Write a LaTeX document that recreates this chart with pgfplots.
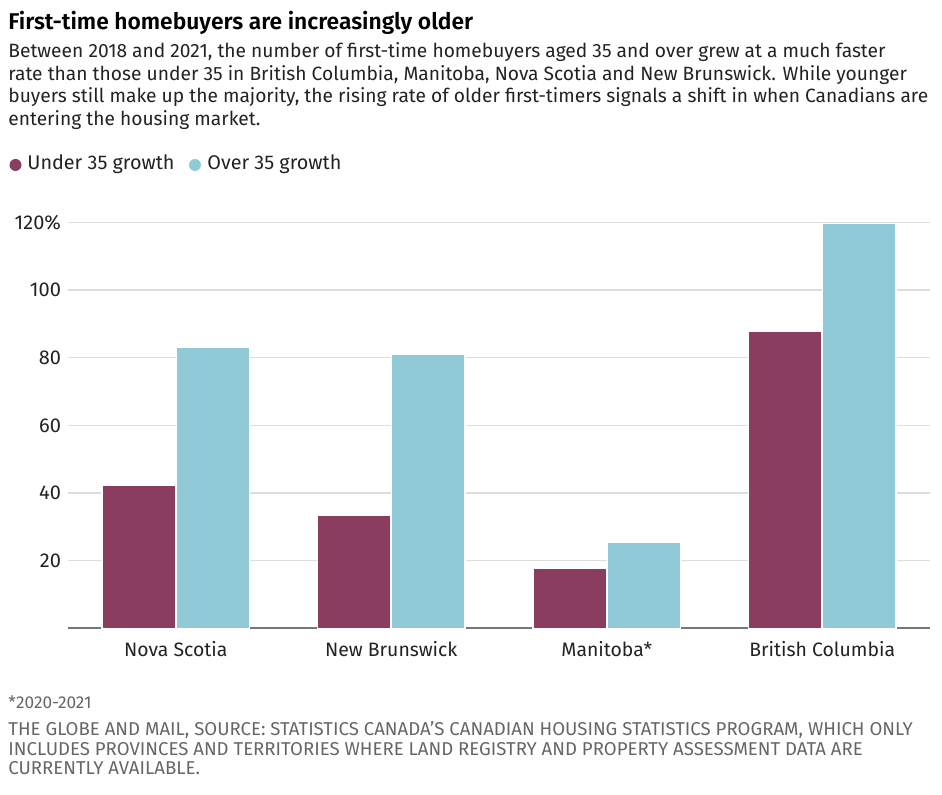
\documentclass[border=0pt]{standalone}
\usepackage{pgfplots}
\pgfplotsset{compat=1.18}
\usepackage{fontspec}
\setmainfont{Fira Sans}
\newfontfamily\semib{Fira Sans SemiBold}
\definecolor{under}{HTML}{8B3D60}
\definecolor{over}{HTML}{90CAD6}
\definecolor{txt}{HTML}{222222}
\definecolor{foot}{HTML}{666666}
\definecolor{gridc}{HTML}{DDDDDD}
\definecolor{basec}{HTML}{777777}
\begin{document}
\begin{tikzpicture}
\begin{scope}[x=0.5pt,y=-0.5pt]
\useasboundingbox (0,0) rectangle (942,795);
% title and subtitle
\node[anchor=base west,inner sep=0,text=black,font=\semib\fontsize{11.4}{14}\selectfont] at (8,30) {First-time homebuyers are increasingly older};
\tikzset{sub/.style={anchor=base west,inner sep=0,text=txt,font=\fontsize{9.6}{11}\selectfont}}
\node[sub] at (8,58) {Between 2018 and 2021, the number of first-time homebuyers aged 35 and over grew at a much faster};
\node[sub] at (8,80.5) {rate than those under 35 in British Columbia, Manitoba, Nova Scotia and New Brunswick. While younger};
\node[sub] at (8,103) {buyers still make up the majority, the rising rate of older first-timers signals a shift in when Canadians are};
\node[sub] at (8,125.5) {entering the housing market.};
% legend
\fill[under] (15.5,165) circle (6);
\node[anchor=base west,inner sep=0,text=txt,font=\fontsize{9.9}{12}\selectfont] at (27,170) {Under 35 growth};
\fill[over] (195,165) circle (6);
\node[anchor=base west,inner sep=0,text=txt,font=\fontsize{9.9}{12}\selectfont] at (207,170) {Over 35 growth};
% footer
\node[anchor=base west,inner sep=0,text=foot,font=\fontsize{8.6}{10}\selectfont] at (8,709) {*2020-2021};
\tikzset{src/.style={anchor=base west,inner sep=0,text=foot,font=\fontsize{9.3}{11}\selectfont}}
\node[src] at (8,735.5) {THE GLOBE AND MAIL, SOURCE: STATISTICS CANADA’S CANADIAN HOUSING STATISTICS PROGRAM, WHICH ONLY};
\node[src] at (8,755) {INCLUDES PROVINCES AND TERRITORIES WHERE LAND REGISTRY AND PROPERTY ASSESSMENT DATA ARE};
\node[src] at (8,774.5) {CURRENTLY AVAILABLE.};
\end{scope}
\begin{axis}[
  at={(34pt,-314.25pt)}, anchor=south west,
  scale only axis, width=431pt, height=203.1pt,
  xmin=-0.5, xmax=3.5, ymin=0, ymax=120,
  xtick={0,1,2,3},
  xticklabels={Nova Scotia,New Brunswick,Manitoba*,British Columbia},
  ytick={20,40,60,80,100,120},
  yticklabels={20,40,60,80,100,120\%},
  xtick style={draw=none}, ytick style={draw=none},
  axis x line*=bottom, axis y line*=left,
  y axis line style={draw=none},
  x axis line style={basec,line width=1pt,-},
  xmajorgrids=false, ymajorgrids=true,
  grid style={gridc,line width=0.7pt},
  xticklabel style={text=txt,font=\fontsize{9.7}{11}\selectfont,anchor=base,yshift=-9.75pt},
  yticklabel style={text=txt,font=\fontsize{10}{12}\selectfont},
  /pgf/number format/assume math mode=true,
  ybar, bar width=0.34,
  clip=false,
]
\addplot[fill=under,draw=white,line width=0.6pt,bar shift=-0.1725] coordinates {(0,42.2) (1,33.3) (2,17.7) (3,87.7)};
\addplot[fill=over,draw=white,line width=0.6pt,bar shift=0.1725] coordinates {(0,83.1) (1,80.9) (2,25.5) (3,119.6)};
\end{axis}
\end{tikzpicture}
\end{document}
